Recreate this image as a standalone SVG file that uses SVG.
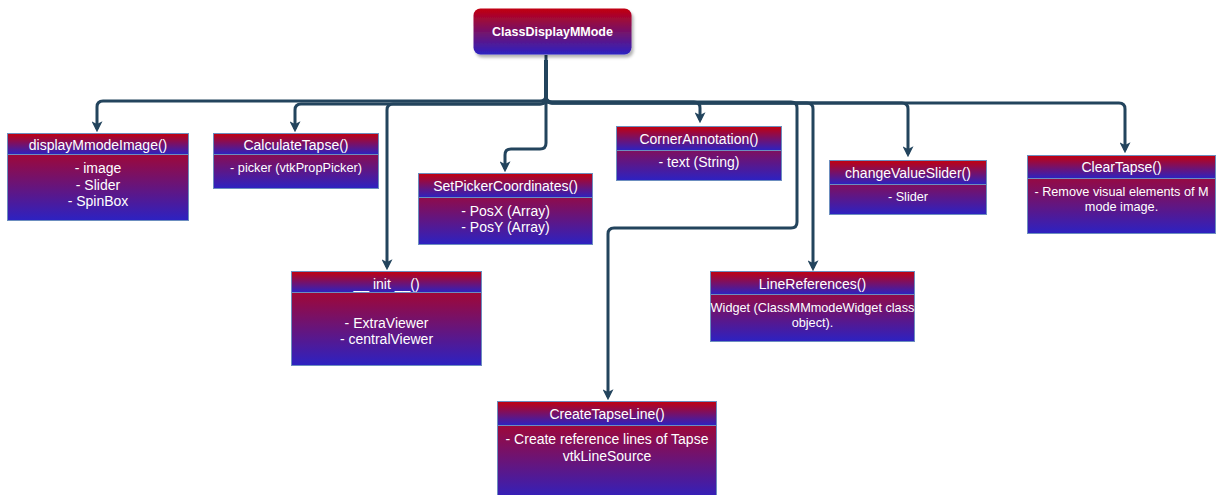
<svg xmlns="http://www.w3.org/2000/svg" width="1217" height="495" viewBox="0 0 1217 495">
<defs>
<linearGradient id="g" x1="0" y1="0" x2="0" y2="1">
<stop offset="0" stop-color="#c2000e"/>
<stop offset="1" stop-color="#2c22c2"/>
</linearGradient>
<filter id="sh" x="-10%" y="-10%" width="130%" height="140%">
<feDropShadow dx="2" dy="3" stdDeviation="1.5" flood-color="#000" flood-opacity="0.3"/>
</filter>
<marker id="ar" viewBox="0 0 10 10" refX="7" refY="5" markerWidth="11" markerHeight="11" markerUnits="userSpaceOnUse" orient="auto">
<path d="M0,0 L10,5 L0,10 L2.5,5 z" fill="#23445d"/>
</marker>
</defs>
<style>
.b{fill:url(#g);stroke:#6c8ebf;stroke-width:1}
.t{font-family:"Liberation Sans",Arial,sans-serif;fill:#fff;text-anchor:middle;dominant-baseline:central}
.h{font-size:14px}
.n{font-size:14px}
.s{font-size:12.7px}
.e{fill:none;stroke:#23445d;stroke-width:3;marker-end:url(#ar)}
</style>
<rect width="1217" height="495" fill="#fff"/>
<g id="connectors">
<path class="e" d="M546,55 V95 Q546,101 540,101 H103 Q97,101 97,107 V129"/>
<path class="e" d="M546,60 V98 Q546,104 540,104 H301 Q295,104 295,110 V129"/>
<path class="e" d="M546,60 V98 Q546,104 540,104 H393 Q387,104 387,110 V267"/>
<path class="e" d="M546,60 V143 Q546,149 540,149 H511 Q505,149 505,155 V169"/>
<path class="e" d="M546,60 V96 Q546,102 552,102 H694 Q700,102 700,108 V120"/>
<path class="e" d="M546,60 V96 Q546,102 552,102 H791 Q797,102 797,108 V222 Q797,228 791,228 H614 Q608,228 608,234 V397"/>
<path class="e" d="M546,60 V97 Q546,103 552,103 H807 Q813,103 813,109 V268"/>
<path class="e" d="M546,60 V97 Q546,103 552,103 H902 Q908,103 908,109 V154"/>
<path class="e" d="M546,60 V97 Q546,103 552,103 H1119 Q1125,103 1125,109 V150"/>
</g>
<g id="ClassDisplayMMode">
<rect x="473.5" y="8.5" width="158" height="46" rx="7" fill="url(#g)" filter="url(#sh)"/>
<text class="t" x="552.5" y="32" font-size="12.5px" font-weight="bold">ClassDisplayMMode</text>
</g>
<g id="displayMmodeImage">
<rect class="b" x="7.5" y="133.5" width="181" height="87"/>
<rect class="b" x="7.5" y="133.5" width="181" height="21"/>
<text class="t h" x="98" y="145">displayMmodeImage()</text>
<text class="t n" x="98" y="168">- image</text>
<text class="t n" x="98" y="185">- Slider</text>
<text class="t n" x="98" y="201">- SpinBox</text>
</g>
<g id="CalculateTapse">
<rect class="b" x="213.5" y="133.5" width="165" height="55"/>
<rect class="b" x="213.5" y="133.5" width="165" height="21"/>
<text class="t h" x="296" y="145">CalculateTapse()</text>
<text class="t s" x="296" y="168">- picker (vtkPropPicker)</text>
</g>
<g id="SetPickerCoordinates">
<rect class="b" x="418.5" y="173.5" width="174" height="71"/>
<rect class="b" x="418.5" y="173.5" width="174" height="24"/>
<text class="t h" x="505.5" y="186">SetPickerCoordinates()</text>
<text class="t n" x="505.5" y="211">- PosX (Array)</text>
<text class="t n" x="505.5" y="227">- PosY (Array)</text>
</g>
<g id="CornerAnnotation">
<rect class="b" x="616.5" y="126.5" width="165" height="54"/>
<rect class="b" x="616.5" y="126.5" width="165" height="24"/>
<text class="t h" x="699" y="138.5">CornerAnnotation()</text>
<text class="t n" x="699" y="162">- text (String)</text>
</g>
<g id="changeValueSlider">
<rect class="b" x="829.5" y="160.5" width="157" height="54"/>
<rect class="b" x="829.5" y="160.5" width="157" height="24"/>
<text class="t h" x="908" y="172.5">changeValueSlider()</text>
<text class="t s" x="908" y="196.5">- Slider</text>
</g>
<g id="ClearTapse">
<rect class="b" x="1027.5" y="155.5" width="188" height="78"/>
<rect class="b" x="1027.5" y="155.5" width="188" height="23"/>
<text class="t h" x="1121.5" y="167">ClearTapse()</text>
<text class="t s" x="1121.5" y="191.5">- Remove visual elements of M</text>
<text class="t s" x="1121.5" y="207">mode image.</text>
</g>
<g id="init">
<rect class="b" x="291.5" y="271.5" width="190" height="94"/>
<rect class="b" x="291.5" y="271.5" width="190" height="21"/>
<text class="t h" x="386.5" y="283.5">__ init __()</text>
<text class="t n" x="386.5" y="323">- ExtraViewer</text>
<text class="t n" x="386.5" y="339">- centralViewer</text>
</g>
<g id="LineReferences">
<rect class="b" x="710.5" y="271.5" width="204" height="70"/>
<rect class="b" x="710.5" y="271.5" width="204" height="23"/>
<text class="t h" x="812.5" y="284">LineReferences()</text>
<text class="t s" x="812.5" y="308">Widget (ClassMMmodeWidget class</text>
<text class="t s" x="812.5" y="322.5">object).</text>
</g>
<g id="CreateTapseLine">
<rect class="b" x="497.5" y="401.5" width="219" height="100"/>
<rect class="b" x="497.5" y="401.5" width="219" height="24"/>
<text class="t h" x="607" y="414">CreateTapseLine()</text>
<text class="t n" x="607" y="439">- Create reference lines of Tapse</text>
<text class="t n" x="607" y="455.5">vtkLineSource</text>
</g>
</svg>
